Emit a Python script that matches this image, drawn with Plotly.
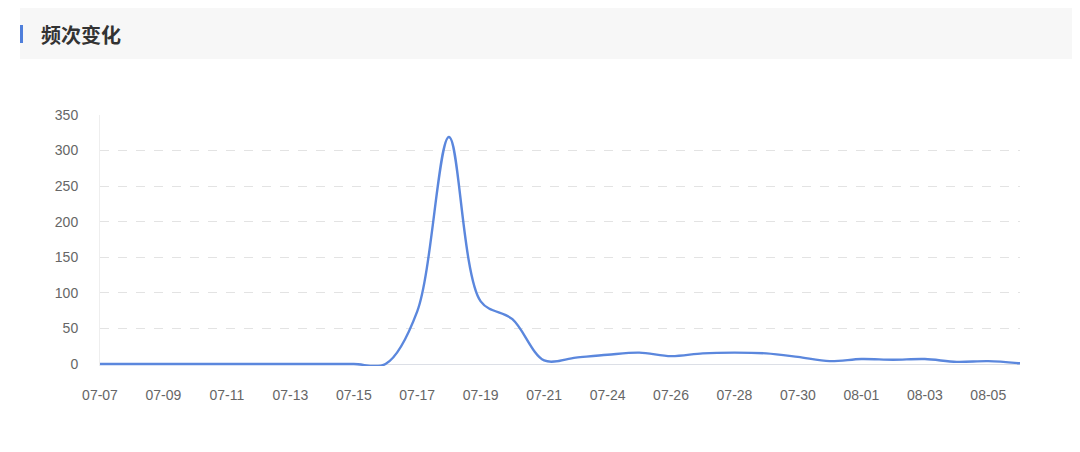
import plotly.graph_objects as go

dates = ["07-07", "07-08", "07-09", "07-10", "07-11", "07-12", "07-13", "07-14",
         "07-15", "07-16", "07-17", "07-18", "07-19", "07-20", "07-21", "07-23",
         "07-24", "07-25", "07-26", "07-27", "07-28", "07-29", "07-30", "07-31",
         "08-01", "08-02", "08-03", "08-04", "08-05", "08-06"]
counts = [0, 0, 0, 0, 0, 0, 0, 0, 0, 0, 74, 319, 88, 63, 5, 9, 13, 16, 11, 15,
          16, 15, 10, 4, 7, 6, 7, 3, 4, 1]
y_ticks = [0, 50, 100, 150, 200, 250, 300, 350]
title_text = "频次变化"

# page body has an 8px margin; compensate so the plot lands at page pixels
OFF = 8
PAD = 2  # extra pixels below zero so the zero-level line is not clipped
W, H = 1080 - OFF, 452 - OFF
L, R, T, B = 100 - OFF, 60, 115 - OFF, 88 - PAD
pw, ph = W - L - R, H - T - B
ymin = -PAD * 350 / (ph - PAD)

def px(x):  # page pixel -> paper x
    return (x - OFF - L) / pw

def py(y):  # page pixel -> paper y
    return (H - B - (y - OFF)) / ph

fig = go.Figure()
fig.add_trace(go.Scatter(
    x=list(range(len(dates))), y=counts, mode="lines",
    line=dict(color="#5b87dd", width=2.4, shape="spline", smoothing=0.95),
    hoverinfo="x+y", showlegend=False,
))

fig.update_layout(
    width=W, height=H,
    margin=dict(l=L, r=R, t=T, b=B),
    paper_bgcolor="white", plot_bgcolor="white",
    font=dict(family="Liberation Sans, Arial, sans-serif", size=14, color="#666666"),
    xaxis=dict(
        range=[0, len(dates) - 1],
        tickmode="array",
        tickvals=list(range(0, len(dates), 2)),
        ticktext=[dates[i] for i in range(0, len(dates), 2)],
        showgrid=False, zeroline=False, showline=False,
        ticks="", ticklabelstandoff=19,
        fixedrange=True,
    ),
    yaxis=dict(
        range=[ymin, 350], tickvals=y_ticks,
        showgrid=True, gridcolor="#e3e3e3", griddash="dash", gridwidth=1,
        zeroline=True, zerolinecolor="#dcdfe6", zerolinewidth=1,
        showline=True, linecolor="#eeeeee", linewidth=1,
        ticks="", ticklabelstandoff=18,
        fixedrange=True,
    ),
    shapes=[
        dict(type="rect", xref="paper", yref="paper",
             x0=px(20), x1=px(1080), y0=py(59), y1=py(7),
             fillcolor="#f7f7f7", line=dict(width=0), layer="below"),
        dict(type="rect", xref="paper", yref="paper",
             x0=px(20), x1=px(23), y0=py(43), y1=py(25),
             fillcolor="#4f7fdb", line=dict(width=0)),
    ],
    annotations=[
        dict(text="<b>" + title_text + "</b>", xref="paper", yref="paper",
             x=px(39), y=py(34), xanchor="left", yanchor="middle",
             showarrow=False,
             font=dict(family="Noto Sans CJK SC", size=20, color="#333333")),
    ],
)

fig.write_html("out.html")
